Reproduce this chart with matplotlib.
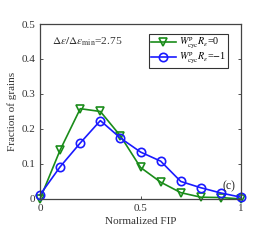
import matplotlib
matplotlib.use("Agg")
import matplotlib.pyplot as plt

plt.rcParams['font.family'] = ['Liberation Serif', 'DejaVu Serif']
plt.rcParams['mathtext.fontset'] = 'stix'

fip = [0, 0.1, 0.2, 0.3, 0.4, 0.5, 0.6, 0.7, 0.8, 0.9, 1.0]
r0 = [0.0, 0.14, 0.258, 0.25, 0.18, 0.09, 0.048, 0.018, 0.005, 0.004, 0.0]
rm1 = [0.012, 0.092, 0.16, 0.224, 0.174, 0.134, 0.108, 0.05, 0.032, 0.017, 0.005]
labels = [r'$W^{\rm p}_{\rm cyc}R_\varepsilon$=0', r'$W^{\rm p}_{\rm cyc}R_\varepsilon$=$-$1']
xticks = [0, 0.5, 1]
yticks = [0, 0.1, 0.2, 0.3, 0.4, 0.5]

fig = plt.figure(figsize=(2.67, 2.40), dpi=100)
ax = fig.add_axes([0.150, 0.171, 0.753, 0.729])
ax.plot(fip, r0, color='#1a8c1a', marker='v', markersize=6, markerfacecolor='none',
        markeredgewidth=1.2, linewidth=1.2, label=labels[0], clip_on=False)
ax.plot(fip, rm1, color='#1a1aff', marker='o', markersize=6, markerfacecolor='none',
        markeredgewidth=1.2, linewidth=1.2, label=labels[1], clip_on=False)
ax.set_xlim(0, 1)
ax.set_ylim(0, 0.5)
ax.set_xticks(xticks)
ax.set_xticklabels(['0', '0.5', '1'])
ax.set_yticks(yticks)
ax.set_yticklabels(['0', '0.1', '0.2', '0.3', '0.4', '0.5'])
ax.tick_params(direction='in', length=2, labelsize=8, width=0.6, top=False, right=True, colors='#333333')
for s in ax.spines.values():
    s.set_linewidth(0.9)
    s.set_color('#444444')
ax.set_xlabel('Normalized FIP', fontsize=8, color='#333333', labelpad=3)
ax.set_ylabel('Fraction of grains', fontsize=8, color='#333333', labelpad=3)
ax.text(0.06, 0.45, r'$\Delta\varepsilon/\Delta\varepsilon_{\rm min}$=2.75', fontsize=8.2,
        color='#333333', va='center', ha='left')
ax.text(0.94, 0.035, '(c)', fontsize=8.5, color='#222222', ha='center', va='center')
leg = ax.legend(loc='upper right', bbox_to_anchor=(0.935, 0.943), fontsize=7.2, frameon=True,
                fancybox=False, edgecolor='black', borderpad=0.2, labelspacing=0.0,
                handlelength=2.5, handletextpad=0.3, borderaxespad=0.0)
leg.get_frame().set_linewidth(0.8)
fig.savefig('out.png', dpi=100)
